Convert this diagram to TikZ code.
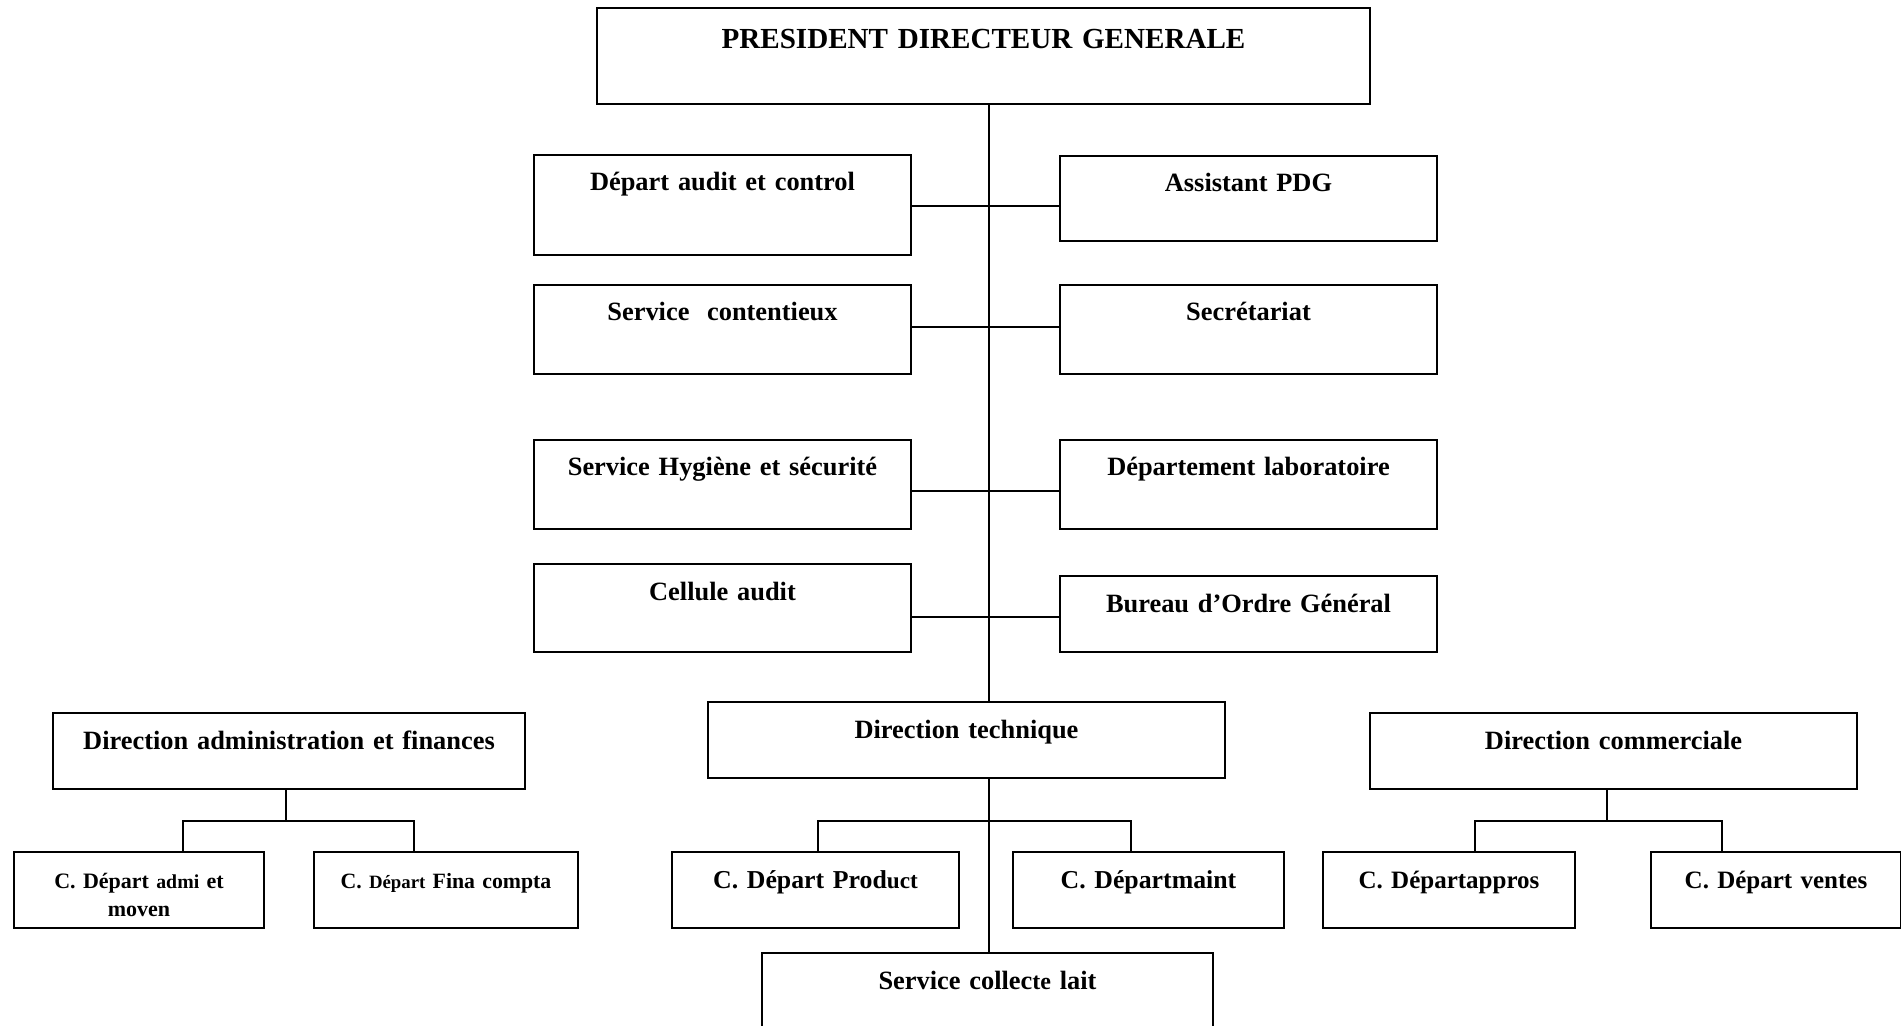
\documentclass[tikz,border=0pt]{standalone}
\usepackage{fontspec}
\setmainfont{Liberation Serif}

\begin{document}
\begin{tikzpicture}[x=0.5pt, y=-0.5pt, line width=1pt,
    font=\bfseries\fontsize{13.2}{16}\selectfont,
    unitbox/.style={draw, anchor=north west, inner sep=0pt, align=center, text height=18pt}]
\clip (0,0) rectangle (1901,1026);

\node[unitbox, font=\bfseries\fontsize{14.55}{17}\selectfont, text width=386.5pt,
    text height=20.5pt, text depth=27.5pt] (pdg) at (596,7) {PRESIDENT DIRECTEUR GENERALE};

\foreach \boxname/\x/\y/\w/\h/\txt in {%
    audit/533/154/377/100/{Départ audit et control},
    assist/1059/155/377/85/{Assistant PDG},
    contentieux/533/284/377/89/{Service\ \ contentieux},
    secretariat/1059/284/377/89/{Secrétariat},
    hygiene/533/439/377/89/{Service Hygiène et sécurité},
    labo/1059/439/377/89/{Département laboratoire},
    cellule/533/563/377/88/{Cellule audit},
    bureau/1059/575/377/76/{Bureau d’Ordre Général},
    dirAF/52/712/472/76/{Direction administration et finances},
    dirTech/707/701/517/76/{Direction technique},
    dirCom/1369/712/487/76/{Direction commerciale},
    collecte/761/952/451/100/{Service collec{\fontsize{12}{14}\selectfont te} lait}
} {
    \pgfmathsetmacro\boxw{\w/2}
    \pgfmathsetmacro\boxd{(\h-36)/2}
    \node[unitbox, text width=\boxw pt, text depth=\boxd pt] (\boxname) at (\x,\y) {\txt};
}

\foreach \boxname/\x/\w/\fs/\txt in {%
    cAdmi/13/250/11/{C. Départ {\fontsize{9.9}{14}\selectfont admi} et\\moven},
    cFina/313/264/10.9/{C. {\fontsize{9.4}{14}\selectfont Départ} Fina compta},
    cProd/671/287/12.9/{C. Départ Prod{\fontsize{11.6}{14}\selectfont uct}},
    cMaint/1012/271/12.9/{C. Départmaint},
    cAppro/1322/252/12.5/{C. Départappros},
    cVentes/1650/250/12.5/{C. Départ ventes}
} {
    \pgfmathsetmacro\boxw{\w/2}
    \node[unitbox, font=\bfseries\fontsize{\fs}{14}\selectfont, text width=\boxw pt,
        text depth=20pt] (\boxname) at (\x,851) {\txt};
}

% central trunk and side links
\coordinate (trunk) at (989,0);
\coordinate (j1) at (989,206);
\coordinate (j2) at (989,327);
\coordinate (j3) at (989,491);
\coordinate (j4) at (989,617);
\draw (pdg.south -| trunk) -- (dirTech.north -| trunk);
\draw (dirTech.south -| trunk) -- (collecte.north -| trunk);
\foreach \l/\r/\j in {audit/assist/j1, contentieux/secretariat/j2, hygiene/labo/j3, cellule/bureau/j4}
    \draw (\l.east |- \j) -- (\r.west |- \j);

% department branches
\coordinate (afhub) at (286,821);
\coordinate (afleft) at (183,821);
\coordinate (afright) at (414,821);
\coordinate (tleft) at (818,821);
\coordinate (tright) at (1131,821);
\coordinate (comhub) at (1607,821);
\coordinate (comleft) at (1475,821);
\coordinate (comright) at (1722,821);
\draw (dirAF.south -| afhub) -- (afhub);
\draw (cAdmi.north -| afleft) -- (afleft) -- (afright) -- (cFina.north -| afright);
\draw (cProd.north -| tleft) -- (tleft) -- (tright) -- (cMaint.north -| tright);
\draw (dirCom.south -| comhub) -- (comhub);
\draw (cAppro.north -| comleft) -- (comleft) -- (comright) -- (cVentes.north -| comright);
\end{tikzpicture}
\end{document}
